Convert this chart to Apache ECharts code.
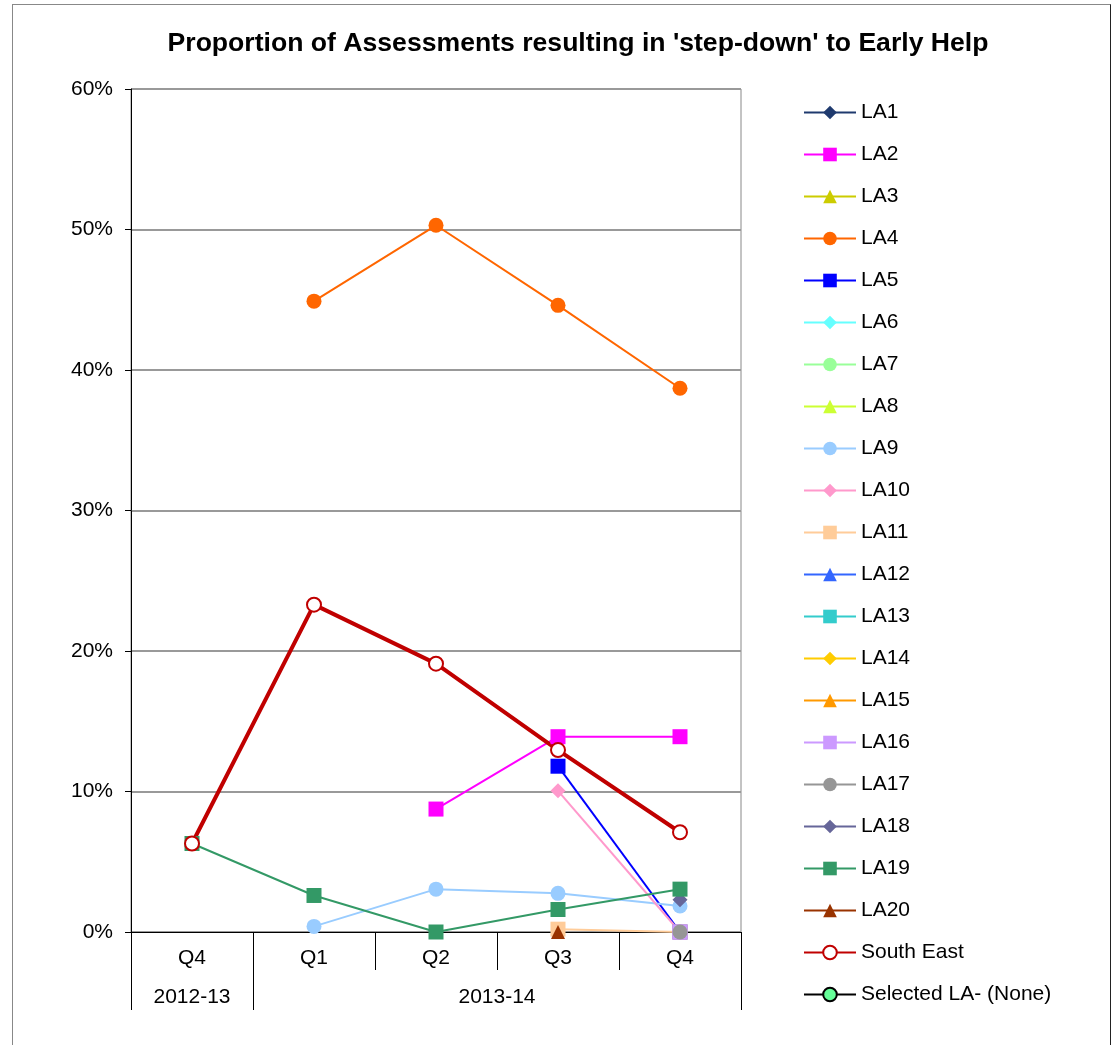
<!DOCTYPE html>
<html>
<head>
<meta charset="utf-8">
<script src="https://cdn.jsdelivr.net/npm/echarts@6/dist/echarts.min.js"></script>
<style>
    body { margin: 0; background: #fff; }
    #chart { position: absolute; left: 0; top: 0; width: 1113px; height: 1045px; }
    #frame { position: absolute; left: 12px; top: 4px; width: 1097px; height: 1100px;
             border-top: 1px solid #888; border-left: 1px solid #888; border-right: 1px solid #222; pointer-events: none; }
</style>
</head>
<body>
<div id="chart"></div>
<div id="frame"></div>
<script>
// categories
const quarters = ["Q4", "Q1", "Q2", "Q3", "Q4"];
const quarterYear = ["2012-13", "2013-14", "2013-14", "2013-14", "2013-14"];
const yTicks = [0, 10, 20, 30, 40, 50, 60];

// series values (%)
const la1 = [null, null, null, null, null];
const la2 = [null, null, 8.75, 13.9, 13.9];
const la3 = [null, null, null, null, null];
const la4 = [null, 44.9, 50.3, 44.6, 38.7];
const la5 = [null, null, null, 11.8, 0];
const la6 = [null, null, null, null, null];
const la7 = [null, null, null, null, null];
const la8 = [null, null, null, null, null];
const la9 = [null, 0.4, 3.05, 2.75, 1.85];
const la10 = [null, null, null, 10.05, 0];
const la11 = [null, null, null, 0.2, 0];
const la12 = [null, null, null, null, null];
const la13 = [null, null, null, null, null];
const la14 = [null, null, null, null, null];
const la15 = [null, null, null, null, null];
const la16 = [null, null, null, null, 0];
const la17 = [null, null, null, null, 0];
const la18 = [null, null, null, null, 2.3];
const la19 = [6.3, 2.6, 0, 1.6, 3.05];
const la20 = [null, null, null, 0, null];
const southEast = [6.3, 23.3, 19.1, 12.95, 7.1];
const selectedLA = [null, null, null, null, null];

const FONT = "Liberation Sans, Arial, sans-serif";

function la(name, data, color, symbol, size) {
    return {
        name: name,
        type: "line",
        data: data,
        symbol: symbol,
        symbolSize: size,
        showAllSymbol: true,
        connectNulls: false,
        lineStyle: { color: color, width: 2 },
        itemStyle: { color: color },
        emphasis: { disabled: true },
        animation: false
    };
}

const series = [
    la("LA1", la1, "#1F3A6E", "diamond", 15),
    la("LA2", la2, "#FF00FF", "rect", 15),
    la("LA3", la3, "#CCCC00", "triangle", 14),
    la("LA4", la4, "#FF6600", "circle", 15),
    la("LA5", la5, "#0000FF", "rect", 15),
    la("LA6", la6, "#66FFFF", "diamond", 15),
    la("LA7", la7, "#99FF99", "circle", 15),
    la("LA8", la8, "#CCFF33", "triangle", 14),
    la("LA9", la9, "#99CCFF", "circle", 15),
    la("LA10", la10, "#FF99CC", "diamond", 15),
    la("LA11", la11, "#FFCC99", "rect", 15),
    la("LA12", la12, "#3366FF", "triangle", 14),
    la("LA13", la13, "#33CCCC", "rect", 15),
    la("LA14", la14, "#FFCC00", "diamond", 15),
    la("LA15", la15, "#FF9900", "triangle", 14),
    la("LA16", la16, "#CC99FF", "rect", 15),
    la("LA17", la17, "#969696", "circle", 15),
    la("LA18", la18, "#666699", "diamond", 15),
    la("LA19", la19, "#339966", "rect", 15),
    la("LA20", la20, "#993300", "triangle", 14),
    {
        name: "South East", type: "line", data: southEast,
        symbol: "circle", symbolSize: 14,
        lineStyle: { color: "#C00000", width: 4 },
        itemStyle: { color: "#fff", borderColor: "#C00000", borderWidth: 2 },
        emphasis: { disabled: true }, animation: false
    },
    {
        name: "Selected LA- (None)", type: "line", data: selectedLA,
        symbol: "circle", symbolSize: 13,
        lineStyle: { color: "#000", width: 5 },
        itemStyle: { color: "#66FF99", borderColor: "#000", borderWidth: 2 },
        emphasis: { disabled: true }, animation: false
    }
];

// year label sits in the middle of its group of quarters
function yearLabel(value, index) {
    let start = index, end = index;
    while (start > 0 && quarterYear[start - 1] === value) start--;
    while (end < quarterYear.length - 1 && quarterYear[end + 1] === value) end++;
    const mid = (start + end) / 2;
    if (index === Math.floor(mid)) {
        return mid === index ? "{c|" + value + "}" : "{h|" + value + "}";
    }
    return "";
}

let myChart = echarts.init(document.getElementById("chart"));
let option = {
    backgroundColor: "#fff",
    animation: false,
    title: {
        text: "Proportion of Assessments resulting in 'step-down' to Early Help",
        left: 573, top: 25, textAlign: "center",
        textStyle: { fontFamily: FONT, fontSize: 26.6, fontWeight: "bold", color: "#000" }
    },
    grid: {
        left: 131, right: 372, top: 89, bottom: 113,
        show: true, borderColor: "#888", borderWidth: 1, backgroundColor: "transparent"
    },
    legend: {
        orient: "vertical",
        left: 803, top: 102, padding: 0,
        itemWidth: 52, itemHeight: 17, itemGap: 21, itemTextGap: 6,
        textStyle: { fontFamily: FONT, fontSize: 21, color: "#000" },
        data: series.map(s => s.name)
    },
    xAxis: [
        {
            type: "category",
            data: quarters,
            boundaryGap: true,
            axisLine: { lineStyle: { color: "#000", width: 1 } },
            axisTick: { show: true, interval: 0, length: 38, lineStyle: { color: "#000" } },
            axisLabel: { interval: 0, margin: 16, fontFamily: FONT, fontSize: 21, color: "#000" },
            splitLine: { show: false }
        },
        {
            type: "category",
            position: "bottom",
            offset: 0,
            data: quarterYear,
            boundaryGap: true,
            axisLine: { show: false },
            axisTick: {
                show: true, length: 78,
                interval: (i) => i === 0 || quarterYear[i] !== quarterYear[i - 1],
                lineStyle: { color: "#000" }
            },
            axisLabel: {
                interval: 0, margin: 55, formatter: yearLabel,
                rich: {
                    c: { fontFamily: FONT, fontSize: 21, color: "#000" },
                    h: { fontFamily: FONT, fontSize: 21, color: "#000", padding: [0, 0, 0, 122] }
                }
            },
            splitLine: { show: false }
        }
    ],
    yAxis: {
        type: "value",
        min: yTicks[0], max: yTicks[yTicks.length - 1], interval: 10,
        axisLine: { show: true, lineStyle: { color: "#000", width: 1 } },
        axisTick: { show: true, length: 6, lineStyle: { color: "#000" } },
        axisLabel: { formatter: "{value}%", margin: 18, fontFamily: FONT, fontSize: 21, color: "#000" },
        splitLine: { lineStyle: { color: "#999", width: 2 } }
    },
    series: series
};

myChart.setOption(option);
</script>
</body>
</html>
